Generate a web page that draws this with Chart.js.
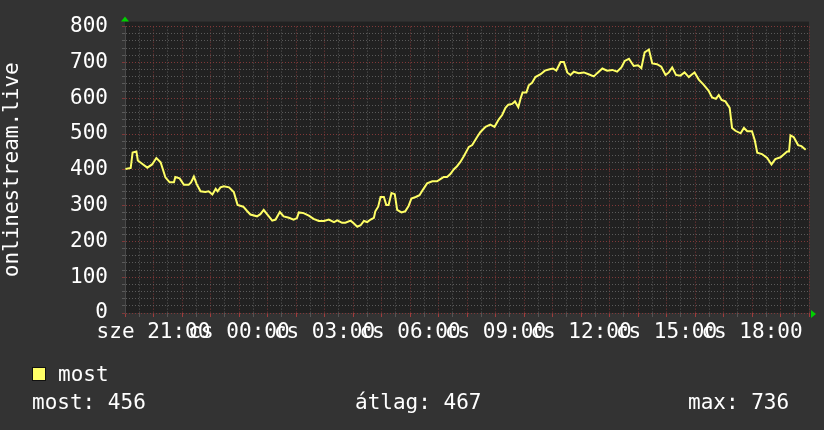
<!DOCTYPE html>
<html>
<head>
<meta charset="utf-8">
<script src="https://cdn.jsdelivr.net/npm/chart.js@4"></script>
<style>
    html, body { margin: 0; padding: 0; background: #333333; }
    #wrap { position: relative; width: 824px; height: 430px; overflow: hidden; }
    .txt { position: absolute; color: #ffffff; font: 21px "DejaVu Sans Mono", monospace; line-height: 20px; white-space: pre; }
    #swatch { position: absolute; left: 32px; top: 367px; width: 14px; height: 14px; box-sizing: border-box; background: #ffff66; border: 1px solid #111; }
</style>
</head>
<body>
<div id="wrap">
    <canvas id="chart" width="824" height="430"></canvas>
    <div id="swatch"></div>
    <div class="txt" style="left:58px; top:364px;">most</div>
    <div class="txt" style="left:32px; top:392px;">most: 456</div>
    <div class="txt" style="left:355px; top:392px;">átlag: 467</div>
    <div class="txt" style="left:688px; top:392px;">max: 736</div>
</div>
<script>
// percek 20:00 (sze) óta, nézőszám
const minutes = [1, 12, 16, 24, 27, 36, 47, 57, 66, 75, 85, 94, 103, 106, 115, 124, 134, 139, 145, 151,
    159, 169, 176, 184, 191, 195, 201, 208, 219, 229, 237, 249, 257, 264, 278, 285, 292, 299, 310, 317,
    326, 334, 345, 355, 362, 366, 376, 387, 397, 408, 419, 429, 440, 447, 457, 464, 475, 482, 489, 496,
    503, 510, 517, 524, 527, 533, 538, 545, 550, 555, 561, 568, 573, 582, 590, 597, 603, 612, 620, 627,
    636, 647, 657, 664, 671, 678, 685, 692, 699, 706, 713, 724, 731, 741, 748, 759, 769, 778, 787, 794,
    801, 807, 815, 821, 828, 833, 837, 845, 850, 857, 864, 875, 884, 894, 901, 908, 917, 924, 931, 938,
    945, 955, 966, 976, 987, 994, 1005, 1015, 1026, 1036, 1045, 1052, 1061, 1071, 1080, 1087, 1094, 1103, 1110, 1120,
    1129, 1138, 1145, 1152, 1160, 1169, 1178, 1187, 1192, 1199, 1208, 1218, 1228, 1236, 1244, 1250, 1256, 1264, 1273, 1278,
    1285, 1296, 1303, 1310, 1320, 1326, 1331, 1341, 1352, 1361, 1369, 1380, 1394, 1398, 1401, 1408, 1417, 1424, 1433];
const viewers = [402, 405, 448, 451, 426, 417, 406, 415, 433, 421, 379, 365, 365, 380, 376, 358, 358, 365, 381, 360,
    340, 338, 340, 331, 347, 340, 351, 354, 351, 338, 302, 297, 285, 275, 270, 276, 288, 276, 258, 261,
    282, 270, 266, 261, 265, 281, 279, 272, 263, 257, 257, 261, 254, 259, 252, 252, 258, 250, 241, 245,
    257, 254, 261, 266, 284, 297, 324, 324, 302, 302, 335, 332, 288, 281, 284, 299, 320, 324, 329, 344,
    362, 368, 368, 374, 380, 380, 388, 401, 410, 422, 437, 464, 469, 491, 505, 520, 526, 520, 541, 553,
    573, 582, 584, 591, 575, 600, 616, 616, 636, 643, 659, 667, 677, 681, 683, 677, 701, 701, 672, 665,
    674, 670, 672, 667, 661, 670, 683, 677, 679, 674, 686, 704, 710, 690, 692, 684, 728, 736, 697, 695,
    688, 665, 672, 686, 665, 663, 672, 659, 665, 672, 652, 638, 622, 602, 598, 609, 595, 591, 573, 517,
    509, 502, 517, 508, 508, 482, 448, 444, 433, 415, 430, 435, 451, 451, 496, 491, 469, 466, 456];

const tickMinutes = [60, 240, 420, 600, 780, 960, 1140, 1320];
const tickLabels = ['sze 21:00', 'cs 00:00', 'cs 03:00', 'cs 06:00', 'cs 09:00', 'cs 12:00', 'cs 15:00', 'cs 18:00'];

const FONT = { family: '"DejaVu Sans Mono", monospace', size: 21 };
const MAJOR = '#803838';
const MINOR = '#5a5a5a';

const rrdBackground = {
    id: 'rrdBackground',
    beforeDraw(chart) {
        const { ctx, chartArea: a } = chart;
        ctx.save();
        ctx.fillStyle = '#333333';
        ctx.fillRect(0, 0, chart.width, chart.height);
        ctx.fillStyle = '#212121';
        ctx.fillRect(a.left, a.top - 5, a.right - a.left, a.bottom - a.top + 5);
        ctx.restore();
    },
    afterDraw(chart) {
        // zöld nyilak a tengelyek végén
        const { ctx, chartArea: a } = chart;
        ctx.save();
        ctx.fillStyle = '#00d000';
        ctx.beginPath();
        ctx.moveTo(a.left - 4, a.top - 5);
        ctx.lineTo(a.left + 4, a.top - 5);
        ctx.lineTo(a.left, a.top - 10);
        ctx.closePath();
        ctx.fill();
        ctx.beginPath();
        ctx.moveTo(a.right + 2, a.bottom - 3);
        ctx.lineTo(a.right + 2, a.bottom + 5);
        ctx.lineTo(a.right + 7, a.bottom + 1);
        ctx.closePath();
        ctx.fill();
        ctx.restore();
    }
};

new Chart(document.getElementById('chart'), {
    type: 'line',
    data: {
        datasets: [{
            label: 'most',
            data: minutes.map((m, i) => ({ x: m, y: viewers[i] })),
            borderColor: '#ffff66',
            borderWidth: 2,
            pointRadius: 0,
            tension: 0,
            fill: false
        }]
    },
    options: {
        responsive: false,
        animation: false,
        layout: { padding: { top: 18, right: 15, bottom: 0, left: 0 } },
        plugins: { legend: { display: false }, tooltip: { enabled: false } },
        scales: {
            x: {
                type: 'linear',
                min: 0,
                max: 1440,
                afterFit: s => { s.height = 117; },
                border: { display: false, dash: [1, 2] },
                grid: {
                    color: c => (c.tick && c.tick.value % 60 === 0) ? MAJOR : MINOR,
                    tickColor: c => (c.tick && c.tick.value % 60 === 0) ? '#a03c3c' : '#555555',
                    tickLength: 4
                },
                ticks: {
                    stepSize: 30,
                    maxTicksLimit: 100,
                    autoSkip: false,
                    maxRotation: 0,
                    minRotation: 0,
                    padding: 3,
                    color: '#ffffff',
                    font: FONT,
                    callback: v => {
                        const i = tickMinutes.indexOf(v);
                        return i >= 0 ? tickLabels[i] : '';
                    }
                }
            },
            y: {
                min: 0,
                max: 800,
                afterFit: s => { s.width = 125; },
                border: { display: true, color: '#4a4a4a', dash: [1, 2] },
                grid: {
                    color: c => (c.tick && c.tick.value % 100 === 0) ? MAJOR : MINOR,
                    tickColor: c => (c.tick && c.tick.value % 100 === 0) ? MAJOR : MINOR,
                    tickLength: 3
                },
                ticks: {
                    stepSize: 20,
                    maxTicksLimit: 100,
                    autoSkip: false,
                    padding: 14,
                    color: '#ffffff',
                    font: FONT,
                    callback: v => v % 100 === 0 ? String(v) : ''
                },
                title: {
                    display: true,
                    text: 'onlinestream.live',
                    color: '#ffffff',
                    font: FONT,
                    padding: { top: 0, bottom: 0 }
                }
            }
        }
    },
    plugins: [rrdBackground]
});
</script>
</body>
</html>
